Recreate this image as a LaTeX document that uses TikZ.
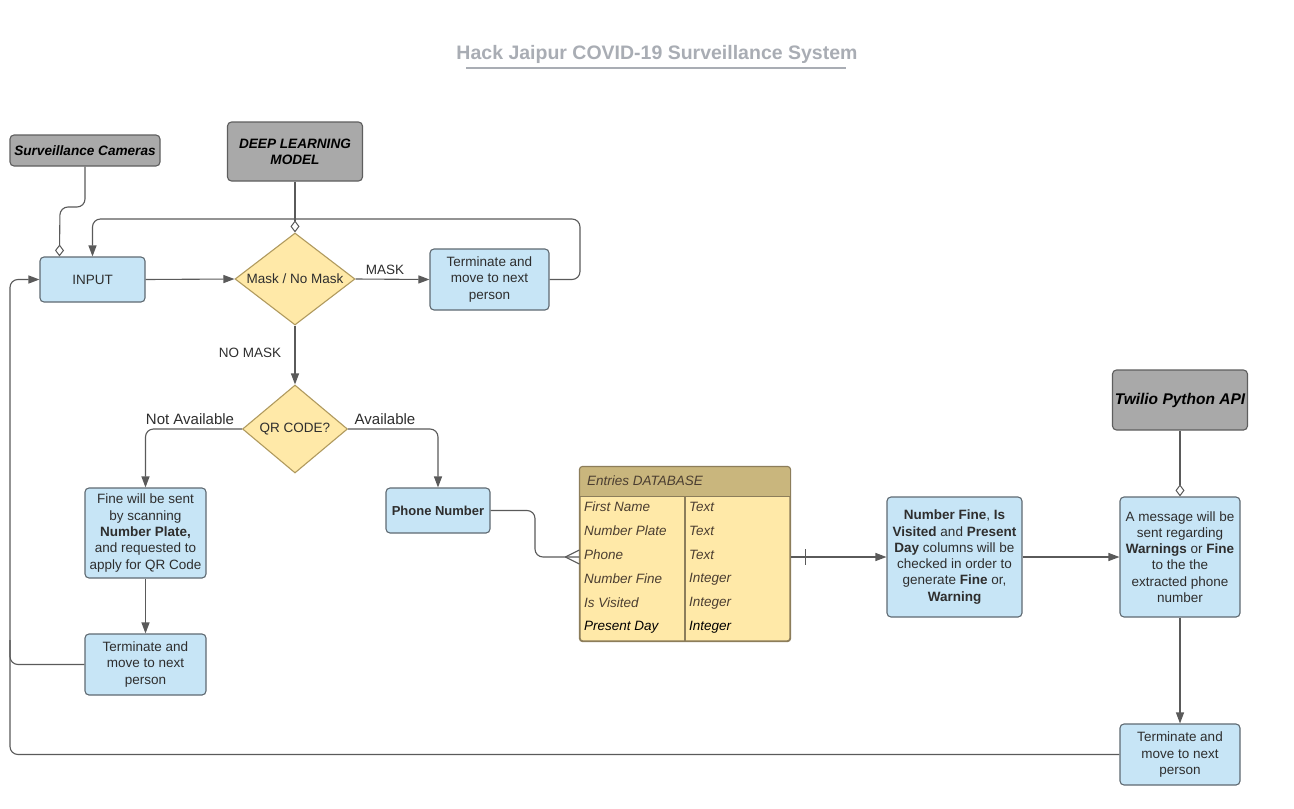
\documentclass[tikz,border=0pt]{standalone}
\usepackage{fontspec}
\setmainfont{Liberation Sans}
\usetikzlibrary{shapes.geometric,arrows.meta,calc}
\definecolor{bluef}{HTML}{C7E5F6}
\definecolor{bordc}{HTML}{5F6A72}
\definecolor{yelf}{HTML}{FFE9A8}
\definecolor{yelb}{HTML}{B09A5E}
\definecolor{dbhead}{HTML}{C9B67D}
\definecolor{dbb}{HTML}{8C7D5A}
\definecolor{grayf}{HTML}{A9A9A9}
\definecolor{grayb}{HTML}{5E5E5E}
\definecolor{txt}{HTML}{2E2E2E}
\definecolor{titlec}{HTML}{A9ADB4}
\definecolor{linec}{HTML}{5A5A5A}
\tikzset{
  bluebox/.style={draw=bordc, fill=bluef, rounded corners=4, line width=1.1, align=center,
    font=\fontsize{13.5}{16.3}\selectfont, text=txt, inner sep=0},
  graybox/.style={draw=grayb, fill=grayf, rounded corners=4, line width=1.1, align=center,
    font=\fontsize{13.6}{16}\selectfont\bfseries\itshape, text=black, inner sep=0},
  decision/.style={diamond, draw=yelb, fill=yelf, line width=1.1, inner sep=0},
  dlabel/.style={font=\fontsize{13.5}{16}\selectfont, text=txt, inner sep=0},
  conn/.style={draw=linec, line width=1.1, rounded corners=8},
  arr/.style={conn, -{Triangle[length=11,width=8,fill=linec]}},
  dtail/.style={conn, -{Diamond[open,length=12,width=9,fill=white,line width=1]}},
  elabel/.style={font=\fontsize{13.5}{16}\selectfont, text=txt},
  dbtext/.style={font=\fontsize{13.5}{16}\selectfont\itshape, text=txt!80!brown, anchor=west, inner sep=0},
}
\begin{document}
\begin{tikzpicture}[x=1pt,y=-1pt]
\useasboundingbox (0,0) rectangle (1294,809);
\fill[white] (0,0) rectangle (1294,809);
% title
\node[font=\fontsize{19.5}{22}\selectfont\bfseries, text=titlec] (title) at (657,54) {Hack Jaipur COVID-19 Surveillance System};
\draw[titlec, line width=1.5] (466,68) -- (846,68);

% nodes
\node[graybox, minimum width=150, minimum height=31] (surv) at (85,150.5) {Surveillance Cameras};
\node[graybox, minimum width=135, minimum height=59] (dlm) at (295,151.5) {DEEP LEARNING\\MODEL};
\node[bluebox, minimum width=105, minimum height=45] (input) at (92.5,279.5) {INPUT};
\node[decision, minimum width=120, minimum height=92] (mask) at (295,279) {};
\node[dlabel] (masktxt) at (mask.center) {Mask / No Mask};
\node[bluebox, minimum width=119, minimum height=61] (term1) at (489.5,279.5) {Terminate and\\move to next\\person};
\node[decision, minimum width=105, minimum height=88] (qr) at (295,429) {};
\node[dlabel] (qrtxt) at (qr.center) {QR CODE?};
\node[bluebox, minimum width=121, minimum height=90] (fine) at (145.5,533) {Fine will be sent\\by scanning\\\textbf{Number Plate,}\\and requested to\\apply for QR Code};
\node[bluebox, minimum width=121, minimum height=61] (term2) at (145.5,664.5) {Terminate and\\move to next\\person};
\node[bluebox, minimum width=104, minimum height=45, font=\fontsize{13}{16}\selectfont\bfseries] (phone) at (438,510.5) {Phone Number};
\node[bluebox, minimum width=135, minimum height=120] (numfine) at (954.5,557) {\textbf{Number Fine}, \textbf{Is}\\\textbf{Visited} and \textbf{Present}\\\textbf{Day} columns will be\\checked in order to\\generate \textbf{Fine} or,\\\textbf{Warning}};
\node[bluebox, minimum width=120, minimum height=120] (msg) at (1180,557) {A message will be\\sent regarding\\\textbf{Warnings} or \textbf{Fine}\\to the the\\extracted phone\\number};
\node[graybox, minimum width=135, minimum height=60, font=\fontsize{15.5}{18}\selectfont\bfseries\itshape] (twilio) at (1180,400) {Twilio Python API};
\node[bluebox, minimum width=120, minimum height=61] (term3) at (1180,754.5) {Terminate and\\move to next\\person};

% database
\node[draw=dbb, fill=yelf, rounded corners=3, line width=1.1, minimum width=210, minimum height=174, inner sep=0] (db) at (685,554) {};
\begin{scope}
  \clip[rounded corners=3] (db.north west) rectangle (db.south east);
  \fill[dbhead] (db.north west) rectangle ($(db.north east)+(0,30)$);
\end{scope}
\draw[dbb, line width=1.1, rounded corners=3] (db.north west) rectangle (db.south east);
\draw[dbb, line width=1.1] ($(db.north west)+(0,30)$) -- ($(db.north east)+(0,30)$);
\draw[dbb, line width=1.1] ($(db.north)+(0,30)$) -- (db.south);
\node[dbtext] (dbh) at (587,481) {Entries DATABASE};
\foreach \y/\a/\b in {507/First Name/Text, 531/Number Plate/Text, 555/Phone/Text, 579/Number Fine/Integer, 603/Is Visited/Integer}{
  \node[dbtext] at (584,\y) {\a};
  \node[dbtext] at (689,\y) {\b};
}
\node[dbtext, text=black] (pd) at (584,627) {Present Day};
\node[dbtext, text=black] (pdi) at (689,627) {Integer};

% connectors
\draw[dtail] (surv.south) -- (85,207) -- (60,207) -- ($(input.north west)+(20,0)$);
\draw[dtail] (dlm.south) -- (mask.north);
\draw[arr] (input.east) -- (mask.west);
\draw[arr] (mask.east) -- (term1.west);
\node[elabel] (lmask) at (385,270) {MASK};
\draw[arr] (term1.east) -- (580,279.5) -- (580,219) -- (92.5,219) -- (input.north);
\draw[arr] (mask.south) -- (qr.north);
\node[elabel] (lnomask) at (250,353) {NO MASK};
\draw[arr] (qr.west) -- (145.5,429) -- (fine.north);
\node[elabel, font=\fontsize{15}{16}\selectfont] (lna) at (190,419) {Not Available};
\draw[arr] (qr.east) -- (438,429) -- (phone.north);
\node[elabel, font=\fontsize{15}{16}\selectfont] (lav) at (385,419) {Available};
\draw[arr] (fine.south) -- (term2.north);
\draw[arr] (term2.west) -- (10,664.5) -- (10,279.5) -- (input.west);
\draw[conn] (term3.west) -- (10,754.5) -- (10,640);
% phone -> db (crow's foot)
\draw[conn] (phone.east) -- (535,510.5) -- (535,557) -- (db.west |- numfine.west);
\draw[linec, line width=1.1] ($(db.west |- numfine.west)+(-14,0)$) -- ($(db.west |- numfine.west)+(0,-7)$);
\draw[linec, line width=1.1] ($(db.west |- numfine.west)+(-14,0)$) -- ($(db.west |- numfine.west)+(0,7)$);
% db -> numfine (one mark)
\draw[arr] (db.east |- numfine.west) -- (numfine.west);
\draw[linec, line width=1.1] ($(db.east |- numfine.west)+(15,-8)$) -- ($(db.east |- numfine.west)+(15,8)$);
\draw[arr] (numfine.east) -- (msg.west);
\draw[dtail] (twilio.south) -- (msg.north);
\draw[arr] (msg.south) -- (term3.north);
\end{tikzpicture}
\end{document}
